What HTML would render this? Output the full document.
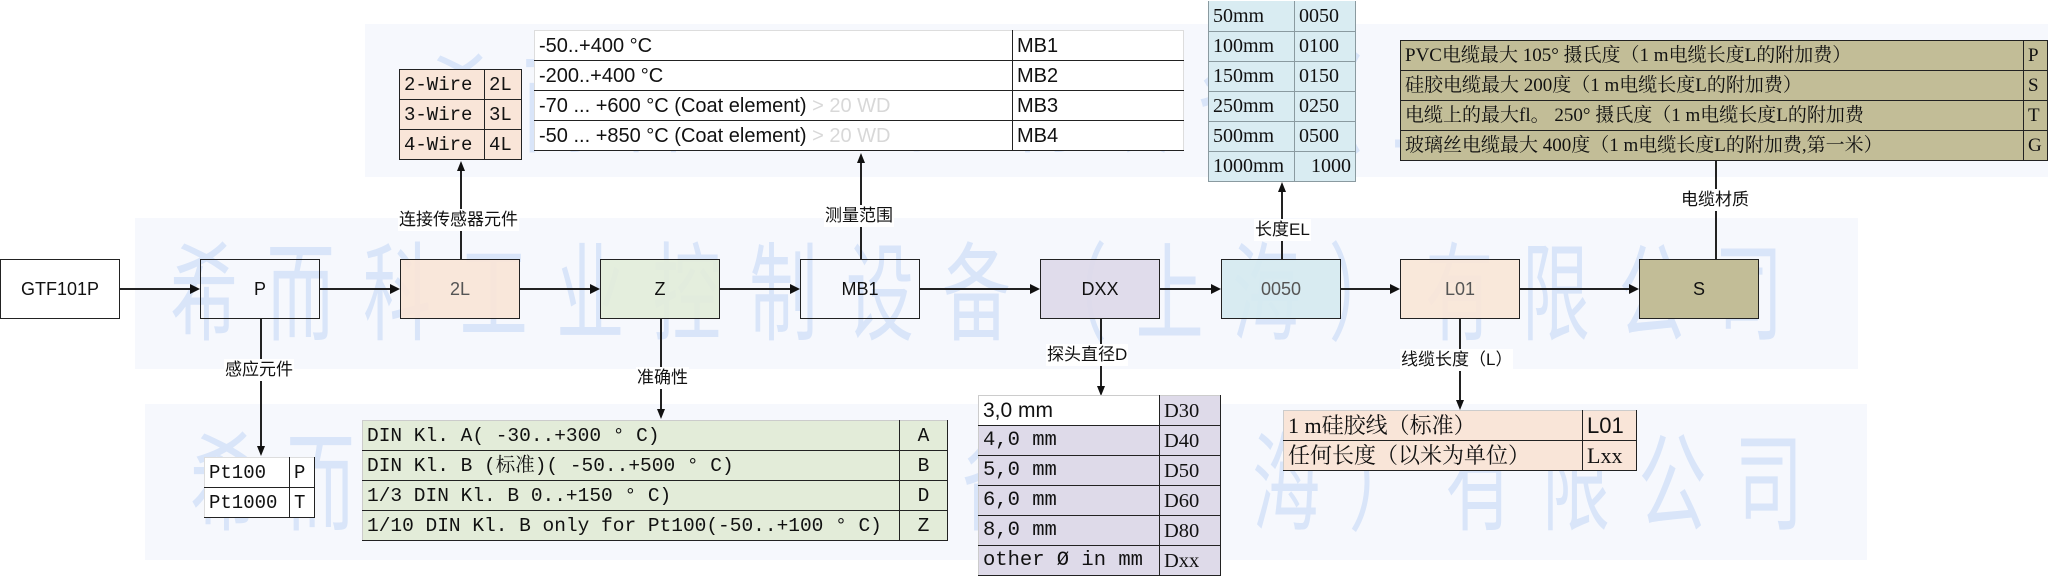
<!DOCTYPE html>
<html><head><meta charset="utf-8">
<style>
*{margin:0;padding:0;box-sizing:border-box}
body{width:2053px;height:579px;background:#fff;position:relative;overflow:hidden;font-family:"Liberation Sans","Noto Sans CJK SC",sans-serif;color:#111}
.bg{position:absolute;background:#f6f8fd}
.wm{position:absolute;font-family:"Noto Sans CJK SC",sans-serif;font-size:100px;line-height:100px;color:#d9e5f9;white-space:nowrap;letter-spacing:42px;transform-origin:0 0;transform:scale(0.68,1.07)}
.box{position:absolute;top:259px;width:120px;height:60px;border:1.5px solid #222;display:flex;align-items:center;justify-content:center;font-size:18px}
.h{position:absolute;height:1.5px;background:#222;top:288px}
.v{position:absolute;width:1.5px;background:#222}
.au{position:absolute;width:0;height:0;border-left:4px solid transparent;border-right:4px solid transparent;border-bottom:10px solid #111}
.ad{position:absolute;width:0;height:0;border-left:4px solid transparent;border-right:4px solid transparent;border-top:10px solid #111}
.ar{position:absolute;top:284px;width:0;height:0;border-top:5px solid transparent;border-bottom:5px solid transparent;border-left:10px solid #111}
.lbl{position:absolute;background:#fff;font-size:17px;line-height:22px;padding:0 1px;white-space:nowrap}
table{position:absolute;border-collapse:collapse}
td{border:1.5px solid #222;height:30px;padding:0 4px;white-space:nowrap;line-height:26px}
.ser{font-family:"Liberation Mono","Noto Serif CJK SC",monospace;font-size:19.5px}
.ser2{font-family:"Liberation Serif","Noto Serif CJK SC",serif;font-size:20px}
.ar19{font-size:20px}
</style></head><body>
<div class="bg" style="left:365px;top:24px;width:1683px;height:153px"></div>
<div class="bg" style="left:135px;top:218px;width:1723px;height:151px"></div>
<div class="bg" style="left:145px;top:404px;width:1722px;height:156px"></div>

<div class="wm" style="left:426px;top:44px">希而科工业控制设备（上海）有限公司</div>
<div class="wm" style="left:170px;top:232px">希而科工业控制设备（上海）有限公司</div>
<div class="wm" style="left:190px;top:422px">希而科工业控制设备（上海）有限公司</div>

<div class="box" style="left:0;width:120px">GTF101P</div>
<div class="box" style="left:200px">P</div>
<div class="box" style="left:400px;background:rgba(249,228,214,.9);color:#555">2L</div>
<div class="box" style="left:600px;background:rgba(226,236,217,.9)">Z</div>
<div class="box" style="left:800px">MB1</div>
<div class="box" style="left:1040px;background:rgba(222,218,234,.95)">DXX</div>
<div class="box" style="left:1221px;background:rgba(214,234,240,.95);color:#555">0050</div>
<div class="box" style="left:1400px;background:rgba(250,229,214,.9);color:#555">L01</div>
<div class="box" style="left:1639px;background:#c2bd97">S</div>

<div class="h" style="left:120px;width:72px"></div><div class="ar" style="left:190px"></div>
<div class="h" style="left:320px;width:72px"></div><div class="ar" style="left:390px"></div>
<div class="h" style="left:520px;width:72px"></div><div class="ar" style="left:590px"></div>
<div class="h" style="left:720px;width:72px"></div><div class="ar" style="left:790px"></div>
<div class="h" style="left:920px;width:112px"></div><div class="ar" style="left:1030px"></div>
<div class="h" style="left:1160px;width:53px"></div><div class="ar" style="left:1211px"></div>
<div class="h" style="left:1341px;width:51px"></div><div class="ar" style="left:1390px"></div>
<div class="h" style="left:1519px;width:112px"></div><div class="ar" style="left:1629px"></div>

<div class="v" style="left:460px;top:165px;height:94px"></div><div class="au" style="left:457px;top:161px"></div>
<div class="lbl" style="left:398px;top:209px">连接传感器元件</div>
<div class="v" style="left:860px;top:157px;height:102px"></div><div class="au" style="left:857px;top:153px"></div>
<div class="lbl" style="left:824px;top:205px">测量范围</div>
<div class="v" style="left:1281px;top:186px;height:73px"></div><div class="au" style="left:1278px;top:182px"></div>
<div class="lbl" style="left:1254px;top:219px">长度EL</div>
<div class="v" style="left:1715px;top:160px;height:99px"></div>
<div class="lbl" style="left:1680px;top:189px">电缆材质</div>

<div class="v" style="left:260px;top:319px;height:128px"></div><div class="ad" style="left:257px;top:446px"></div>
<div class="lbl" style="left:224px;top:359px">感应元件</div>
<div class="v" style="left:660px;top:319px;height:91px"></div><div class="ad" style="left:657px;top:409px"></div>
<div class="lbl" style="left:636px;top:367px">准确性</div>
<div class="v" style="left:1100px;top:319px;height:68px"></div><div class="ad" style="left:1097px;top:386px"></div>
<div class="lbl" style="left:1046px;top:344px">探头直径D</div>
<div class="v" style="left:1459px;top:319px;height:82px"></div><div class="ad" style="left:1456px;top:400px"></div>
<div class="lbl" style="left:1400px;top:349px">线缆长度（L）</div>

<table class="ser" style="left:399px;top:69px;width:123px;background:#f9e5d8;font-size:19px">
<tr><td style="width:85px">2-Wire</td><td>2L</td></tr>
<tr><td>3-Wire</td><td>3L</td></tr>
<tr><td>4-Wire</td><td>4L</td></tr>
</table>

<table class="ar19" style="left:534px;top:30px;width:650px;background:#fff">
<tr><td style="width:478px;border-top-color:#ddd;border-left-color:#ddd">-50..+400 °C</td><td style="border-top-color:#ddd;border-right-color:#ddd">MB1</td></tr>
<tr><td style="border-left-color:#ddd">-200..+400 °C</td><td style="border-right-color:#ddd">MB2</td></tr>
<tr><td style="border-left-color:#ddd">-70 ... +600 °C (Coat element) <span style="color:#d8d8d8">&gt; 20 WD</span></td><td style="border-right-color:#ddd">MB3</td></tr>
<tr><td style="border-left-color:#ddd">-50 ... +850 °C (Coat element) <span style="color:#d8d8d8">&gt; 20 WD</span></td><td style="border-right-color:#ddd">MB4</td></tr>
</table>

<table class="ser2" style="left:1208px;top:1px;width:148px;background:#d9ecf2;font-size:20px">
<tr><td style="width:86px;border-color:#8a9aa0;border-top:none">50mm</td><td style="border-color:#8a9aa0;border-left-color:#222;border-top:none">0050</td></tr>
<tr><td style="border-color:#8a9aa0">100mm</td><td style="border-color:#8a9aa0;border-left-color:#222">0100</td></tr>
<tr><td style="border-color:#8a9aa0">150mm</td><td style="border-color:#8a9aa0;border-left-color:#222">0150</td></tr>
<tr><td style="border-color:#8a9aa0">250mm</td><td style="border-color:#8a9aa0;border-left-color:#222">0250</td></tr>
<tr><td style="border-color:#8a9aa0">500mm</td><td style="border-color:#8a9aa0;border-left-color:#222">0500</td></tr>
<tr><td style="border-color:#8a9aa0">1000mm</td><td style="border-color:#8a9aa0;border-left-color:#222;text-align:right">1000</td></tr>
</table>

<table class="ser2" style="left:1400px;top:40px;width:648px;background:#c2bd97;font-size:19px">
<tr><td style="width:623px">PVC电缆最大 105° 摄氏度（1 m电缆长度L的附加费）</td><td>P</td></tr>
<tr><td>硅胶电缆最大 200度（1 m电缆长度L的附加费）</td><td>S</td></tr>
<tr><td>电缆上的最大fl。 250° 摄氏度（1 m电缆长度L的附加费</td><td>T</td></tr>
<tr><td>玻璃丝电缆最大 400度（1 m电缆长度L的附加费,第一米）</td><td>G</td></tr>
</table>

<table class="ser" style="left:204px;top:457px;width:111px;background:#fff;font-size:19px">
<tr><td style="width:85px;border-top-color:#ddd;border-left-color:#ddd">Pt100</td><td style="border-top-color:#ddd">P</td></tr>
<tr><td style="border-left-color:#ddd">Pt1000</td><td>T</td></tr>
</table>

<table class="ser" style="left:362px;top:420px;width:586px;background:#e3ecd9;font-size:19.5px">
<tr><td style="width:537px;border-top-color:#ccc;border-left-color:#ccc">DIN Kl. A( -30..+300 ° C)</td><td style="text-align:center;border-top-color:#ccc">A</td></tr>
<tr><td style="border-left-color:#ccc">DIN Kl. B (标准)( -50..+500 ° C)</td><td style="text-align:center">B</td></tr>
<tr><td style="border-left-color:#ccc">1/3 DIN Kl. B 0..+150 ° C)</td><td style="text-align:center">D</td></tr>
<tr><td style="border-left-color:#ccc">1/10 DIN Kl. B only for Pt100(-50..+100 ° C)</td><td style="text-align:center">Z</td></tr>
</table>

<table class="ser" style="left:978px;top:395px;width:243px;background:#dedae9;font-size:20.5px">
<tr><td style="width:181px;background:#fff;font-family:'Liberation Sans',sans-serif;font-size:21px;border-top-color:#ccc;border-left-color:#ccc">3,0 mm</td><td style="border-top-color:#ccc;border-left-color:#666;font-family:'Liberation Serif',serif">D30</td></tr>
<tr><td style="border-left-color:#ccc">4,0 mm</td><td style="border-left-color:#666;font-family:'Liberation Serif',serif">D40</td></tr>
<tr><td style="border-left-color:#ccc">5,0 mm</td><td style="border-left-color:#666;font-family:'Liberation Serif',serif">D50</td></tr>
<tr><td style="border-left-color:#ccc">6,0 mm</td><td style="border-left-color:#666;font-family:'Liberation Serif',serif">D60</td></tr>
<tr><td style="border-left-color:#ccc">8,0 mm</td><td style="border-left-color:#666;font-family:'Liberation Serif',serif">D80</td></tr>
<tr><td style="border-left-color:#ccc">other Ø in mm</td><td style="border-left-color:#666;font-family:'Liberation Serif',serif">Dxx</td></tr>
</table>

<table class="ser2" style="left:1283px;top:410px;width:354px;background:#f9e5d8;font-size:22px">
<tr><td style="width:299px;border-top-color:#ccc;border-left-color:#ccc">1 m硅胶线（标准）</td><td style="border-top-color:#ccc;font-family:'Liberation Sans',sans-serif">L01</td></tr>
<tr><td style="border-left-color:#ccc">任何长度（以米为单位）</td><td>Lxx</td></tr>
</table>
</body></html>
